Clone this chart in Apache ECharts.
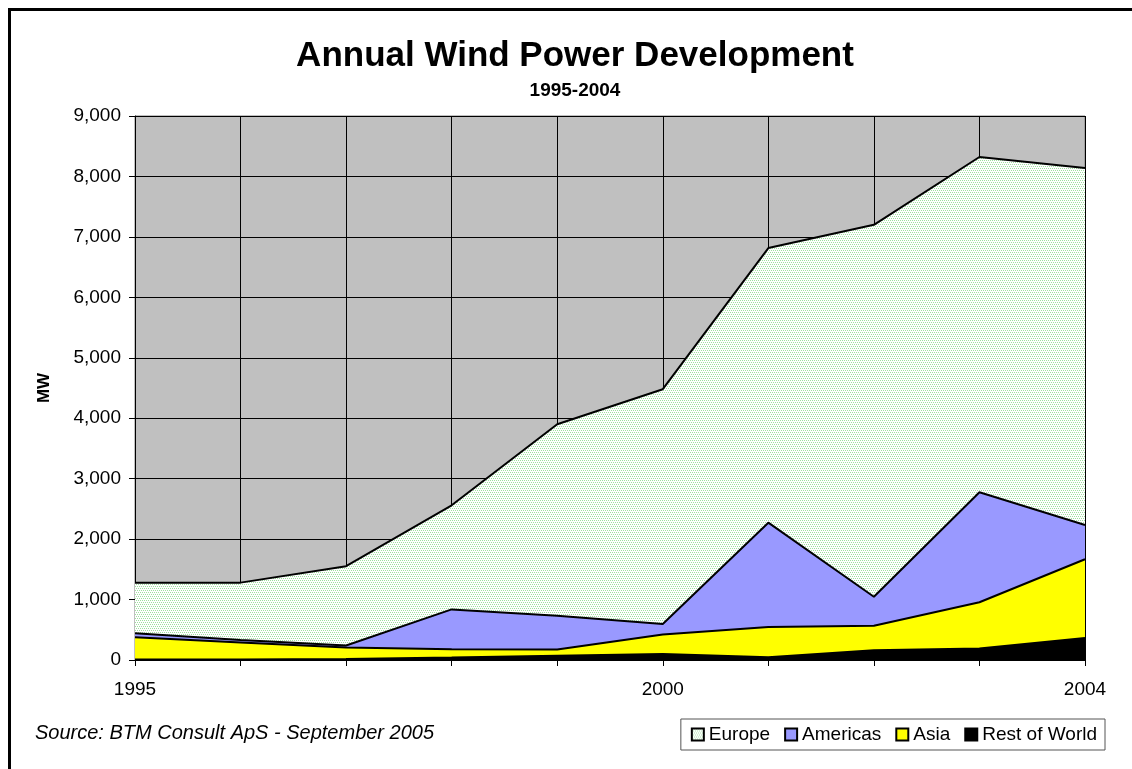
<!DOCTYPE html>
<html>
<head>
<meta charset="utf-8">
<script src="https://cdn.jsdelivr.net/npm/echarts@6/dist/echarts.min.js"></script>
<style>
  html, body { margin: 0; padding: 0; background: #fff; }
  #frame {
    position: absolute; left: 8px; top: 8px;
    width: 1130px; height: 765px;
    border: 3px solid #000;
    box-sizing: border-box;
  }
  #chart { position: absolute; left: 0; top: 0; width: 1132px; height: 769px; }
</style>
</head>
<body>
<div id="frame"></div>
<div id="chart"></div>
<script>
// years on the x axis
const years = ['1995', '1996', '1997', '1998', '1999', '2000', '2001', '2002', '2003', '2004']
const shownYears = ['1995', '2000', '2004']

// annual installations, MW
const restOfWorld = [10, 10, 15, 40, 70, 99, 44, 160, 190, 365]
const asia = [365, 280, 190, 137, 105, 321, 501, 406, 765, 1301]
const americas = [66, 40, 35, 660, 558, 176, 1727, 481, 1820, 568]
const europe = [839, 950, 1312, 1723, 3167, 3884, 4543, 6153, 5547, 5906]

const yTicks = [0, 1000, 2000, 3000, 4000, 5000, 6000, 7000, 8000, 9000]

// dotted fill used by the Europe area
function dotPattern() {
  const c = document.createElement('canvas')
  c.width = 4; c.height = 4
  const ctx = c.getContext('2d')
  ctx.fillStyle = '#ffffff'
  ctx.fillRect(0, 0, 4, 4)
  ctx.fillStyle = '#9fe09f'
  ctx.fillRect(0, 0, 1, 1)
  ctx.fillRect(2, 0, 1, 1)
  ctx.fillRect(1, 2, 1, 1)
  ctx.fillRect(3, 2, 1, 1)
  return { image: c, repeat: 'repeat' }
}
const europeFill = dotPattern()

const font = '"Liberation Sans", Arial, sans-serif'
const chart = echarts.init(document.getElementById('chart'))

function areaSeries(name, data, fill) {
  return {
    name, type: 'line', stack: 'total', data,
    symbol: 'none', smooth: false,
    lineStyle: { color: '#000', width: 2 },
    itemStyle: { color: fill, borderColor: '#000', borderWidth: 1 },
    areaStyle: { color: fill, opacity: 1 },
    emphasis: { disabled: true },
  }
}

chart.setOption({
  backgroundColor: 'transparent',
  animation: false,
  textStyle: { fontFamily: font },
  grid: { left: 135, right: 47, top: 116, bottom: 109, show: true, backgroundColor: '#c0c0c0', borderColor: '#808080', borderWidth: 1 },
  graphic: [
    { type: 'text', x: 575, y: 39, style: { text: 'Annual Wind Power Development', font: 'bold 35px ' + font, fill: '#000', textAlign: 'center' } },
    { type: 'text', x: 575, y: 81, style: { text: '1995-2004', font: 'bold 19px ' + font, fill: '#000', textAlign: 'center' } },
    { type: 'text', x: 35, y: 723, style: { text: 'Source: BTM Consult ApS - September 2005', font: 'italic 20px ' + font, fill: '#000' } },
  ],
  legend: {
    data: ['Europe', 'Americas', 'Asia', 'Rest of World'],
    right: 27, top: 719,
    itemWidth: 12, itemHeight: 12, itemGap: 14,
    icon: 'rect',
    backgroundColor: '#fff', borderColor: '#555', borderWidth: 1,
    padding: [6, 8, 6, 10],
    textStyle: { color: '#000', fontSize: 19, fontFamily: font, padding: [0, 0, 0, 0] },
  },
  xAxis: {
    type: 'category', data: years, boundaryGap: false,
    axisLine: { lineStyle: { color: '#000', width: 1 } },
    axisTick: { show: true, length: 6, interval: 0, lineStyle: { color: '#000' } },
    axisLabel: {
      color: '#000', fontSize: 19, margin: 20, interval: 0,
      formatter: v => shownYears.includes(v) ? v : '',
    },
    splitLine: { show: true, interval: 0, lineStyle: { color: '#000', width: 1 } },
  },
  yAxis: {
    type: 'value', min: yTicks[0], max: yTicks[yTicks.length - 1], interval: 1000,
    name: 'MW', nameLocation: 'middle', nameGap: 82, nameRotate: 90,
    nameTextStyle: { color: '#000', fontSize: 17, fontWeight: 'bold' },
    axisLine: { show: true, lineStyle: { color: '#000', width: 1 } },
    axisTick: { show: true, length: 6, lineStyle: { color: '#000' } },
    axisLabel: { color: '#000', fontSize: 19, margin: 14, formatter: v => v.toLocaleString('en-US') },
    splitLine: { show: true, lineStyle: { color: '#000', width: 1 } },
  },
  series: [
    areaSeries('Rest of World', restOfWorld, '#000000'),
    areaSeries('Asia', asia, '#ffff00'),
    areaSeries('Americas', americas, '#9999ff'),
    areaSeries('Europe', europe, europeFill),
  ],
})
</script>
</body>
</html>
